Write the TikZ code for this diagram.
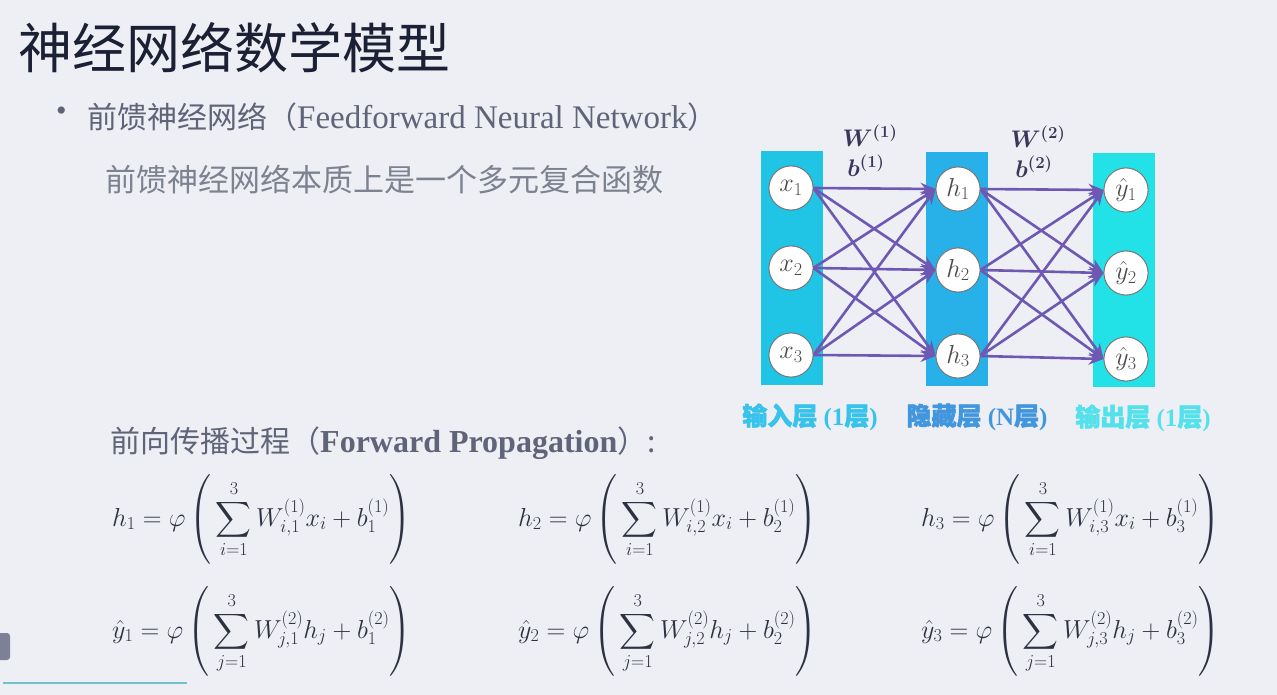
\RequirePackage{fix-cm}
\documentclass[tikz,border=0pt]{standalone}
\usepackage{amsmath}
\usepackage{bm}
\usepackage{fontspec}
\setmainfont{Liberation Serif}
\newfontfamily\cjk{Noto Sans CJK SC}
\newfontfamily\cjkb{Noto Sans CJK SC}[FakeBold=2]
\usetikzlibrary{arrows.meta}
\definecolor{bg}{RGB}{237,239,244}
\definecolor{titlec}{RGB}{28,32,52}
\definecolor{txtc}{RGB}{95,100,120}
\definecolor{txtl}{RGB}{125,130,145}
\definecolor{mathc}{RGB}{45,50,66}
\definecolor{inc}{RGB}{32,196,228}
\definecolor{hidc}{RGB}{40,176,232}
\definecolor{outc}{RGB}{34,226,232}
\definecolor{arr}{RGB}{110,88,180}
\definecolor{lin}{RGB}{55,195,235}
\definecolor{lhid}{RGB}{65,150,222}
\definecolor{lout}{RGB}{85,225,235}
\definecolor{wlab}{RGB}{60,55,90}
\definecolor{grayblk}{RGB}{125,128,150}
\definecolor{tealline}{RGB}{110,195,205}
\newcommand{\tallstrut}{\rule[-40pt]{0pt}{92pt}}
\tikzset{
  layer/.style={rectangle, draw=none, minimum width=62pt, minimum height=233pt, inner sep=0pt},
  neuron/.style={circle, draw=black!55, line width=0.8pt, fill=white, minimum size=44pt, inner sep=0pt, text=black!70, font=\fontsize{26}{28}\selectfont},
  conn/.style={draw=arr, line width=2.6pt, -{Stealth[length=15pt,width=12pt]}},
  plain/.style={inner sep=0pt, anchor=west},
  eqn/.style={inner sep=0pt, anchor=west, text=mathc, font=\fontsize{26}{30}\selectfont},
  wl/.style={inner sep=0pt, text=wlab, font=\fontsize{24}{26}\selectfont},
  laylab/.style={inner sep=0pt, font=\fontsize{25}{27}\selectfont\bfseries}
}
\begin{document}
\begin{tikzpicture}[x=1pt,y=-1pt]
\fill[bg] (0,0) rectangle (1277,695);
\useasboundingbox (0,0) rectangle (1277,695);

% title and texts
\node[plain, text=titlec, font=\fontsize{54}{60}\selectfont\cjk] (title) at (18,48) {神经网络数学模型};
\node[plain, text=txtc, font=\fontsize{30}{34}\selectfont] (bullet) at (56,114) {•};
\node[plain, text=txtc, font=\fontsize{33}{36}\selectfont] (sub1) at (87,117) {{\fontsize{30}{34}\selectfont\cjk 前馈神经网络（}Feedforward Neural Network{\fontsize{30}{34}\selectfont\cjk ）}};
\node[plain, text=txtl, font=\fontsize{31}{34}\selectfont\cjk] (sub2) at (105,180) {前馈神经网络本质上是一个多元复合函数};
\node[plain, text=txtc, font=\fontsize{32}{36}\selectfont] (fp) at (110,443) {{\fontsize{30}{34}\selectfont\cjk 前向传播过程（}\textbf{Forward Propagation}{\fontsize{30}{34}\selectfont\cjk ）:}};

% layers
\node[layer, fill=inc] (L1) at (792,268) {};
\node[layer, fill=hidc] (L2) at (957,269) {};
\node[layer, fill=outc] (L3) at (1124,270) {};

% neurons
\node[neuron] (x1) at (791,188) {$x_1$};
\node[neuron] (x2) at (791,268) {$x_2$};
\node[neuron] (x3) at (791,355) {$x_3$};
\node[neuron] (h1) at (958,189) {$h_1$};
\node[neuron] (h2) at (958,270) {$h_2$};
\node[neuron] (h3) at (958,356) {$h_3$};
\node[neuron] (y1) at (1126,190) {$\hat{y}_1$};
\node[neuron] (y2) at (1126,273) {$\hat{y}_2$};
\node[neuron] (y3) at (1126,359) {$\hat{y}_3$};

% connections
\foreach \a in {x1,x2,x3}{\foreach \b in {h1,h2,h3}{\draw[conn] (\a.east) -- (\b.west);}}
\foreach \a in {h1,h2,h3}{\foreach \b in {y1,y2,y3}{\draw[conn] (\a.east) -- (\b.west);}}
% redraw neurons on top
\foreach \n/\t in {x1/x_1,x2/x_2,x3/x_3,h1/h_1,h2/h_2,h3/h_3,y1/\hat{y}_1,y2/\hat{y}_2,y3/\hat{y}_3}{\node[neuron] at (\n) {$\t$};}

% weight labels
\node[wl] (w1) at (870,136) {$\bm{W^{(1)}}$};
\node[wl] (b1) at (866,166) {$\bm{b^{(1)}}$};
\node[wl] (w2) at (1038,137) {$\bm{W^{(2)}}$};
\node[wl] (b2) at (1034,167) {$\bm{b^{(2)}}$};

% layer labels
\node[laylab, text=lin] (lab1) at (810,417) {{\cjkb 输入层} ({1\cjkb 层})};
\node[laylab, text=lhid] (lab2) at (977,417) {{\cjkb 隐藏层} (N{\cjkb 层})};
\node[laylab, text=lout] (lab3) at (1143,418) {{\cjkb 输出层} ({1\cjkb 层})};

% equations
\node[eqn] (e1) at (112,520) {$\displaystyle h_1 = \varphi\left(\tallstrut\sum_{i=1}^{3} W_{i,1}^{(1)} x_i + b_1^{(1)}\right)$};
\node[eqn] (e2) at (518,520) {$\displaystyle h_2 = \varphi\left(\tallstrut\sum_{i=1}^{3} W_{i,2}^{(1)} x_i + b_2^{(1)}\right)$};
\node[eqn] (e3) at (921,520) {$\displaystyle h_3 = \varphi\left(\tallstrut\sum_{i=1}^{3} W_{i,3}^{(1)} x_i + b_3^{(1)}\right)$};
\node[eqn] (e4) at (112,632) {$\displaystyle \hat{y}_1 = \varphi\left(\tallstrut\sum_{j=1}^{3} W_{j,1}^{(2)} h_j + b_1^{(2)}\right)$};
\node[eqn] (e5) at (518,632) {$\displaystyle \hat{y}_2 = \varphi\left(\tallstrut\sum_{j=1}^{3} W_{j,2}^{(2)} h_j + b_2^{(2)}\right)$};
\node[eqn] (e6) at (921,632) {$\displaystyle \hat{y}_3 = \varphi\left(\tallstrut\sum_{j=1}^{3} W_{j,3}^{(2)} h_j + b_3^{(2)}\right)$};

% decorations bottom-left
\fill[grayblk, rounded corners=3pt] (-5,633) rectangle (10,660);
\draw[tealline, line width=2pt] (3,683) -- (187,683);
\end{tikzpicture}
\end{document}
